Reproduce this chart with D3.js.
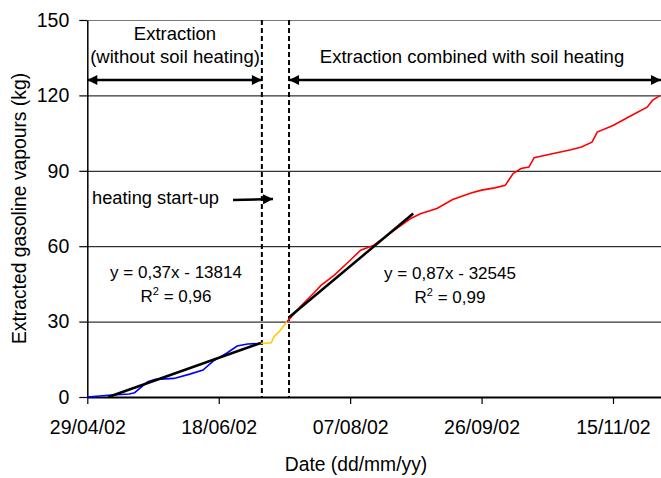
<!DOCTYPE html>
<html>
<head>
<meta charset="utf-8">
<script src="https://cdn.jsdelivr.net/npm/d3@7"></script>
<style>
  body { margin: 0; background: #fff; }
  svg { display: block; font-family: "Liberation Sans", Arial, sans-serif; }
</style>
</head>
<body>
<svg id="chart" width="661" height="478"></svg>
<script>
// extraction without heating (blue)
var blueDates  = ['2002-04-29', '2002-05-07', '2002-05-15', '2002-05-17', '2002-05-22', '2002-05-25',
                  '2002-06-01', '2002-06-07', '2002-06-12', '2002-06-16', '2002-06-21', '2002-06-25',
                  '2002-06-29', '2002-07-04'];
var blueValues = [0, 0.7, 1.2, 1.7, 6.1, 7.0, 7.4, 9.1, 10.7, 14.4, 17.4, 20.3, 21.1, 21.3];

// heating start-up (yellow)
var yellowDates  = ['2002-07-04', '2002-07-08', '2002-07-09', '2002-07-11', '2002-07-14'];
var yellowValues = [21.3, 21.6, 24.0, 26.0, 30.0];

// extraction combined with heating (red)
var redDates  = ['2002-07-14', '2002-07-19', '2002-07-24', '2002-07-27', '2002-08-01', '2002-08-07',
                 '2002-08-11', '2002-08-16', '2002-08-22', '2002-08-30', '2002-09-03', '2002-09-09',
                 '2002-09-15', '2002-09-22', '2002-09-26', '2002-10-01', '2002-10-05', '2002-10-08',
                 '2002-10-11', '2002-10-14', '2002-10-16', '2002-10-22', '2002-10-30', '2002-11-03',
                 '2002-11-07', '2002-11-09', '2002-11-15', '2002-11-22', '2002-11-28', '2002-11-30',
                 '2002-12-03'];
var redValues = [30.0, 35.9, 41.2, 44.5, 48.5, 54.4, 58.4, 60.4, 65.0, 71.0, 73.0, 75.0,
                 78.6, 81.2, 82.3, 83.2, 84.2, 88.9, 90.9, 91.5, 95.2, 96.6, 98.4, 99.5,
                 101.4, 105.4, 108.0, 112.0, 115.3, 118.0, 120.0];

// linear fits (end points)
var trend1Dates  = ['2002-05-07', '2002-07-04'];
var trend1Values = [0, 21.5];
var trend2Dates  = ['2002-07-15', '2002-08-31'];
var trend2Values = [31.9, 73.0];

var heatingBounds = ['2002-07-04 10:00', '2002-07-14 18:00'];
var xTickLabels = ['29/04/02', '18/06/02', '07/08/02', '26/09/02', '15/11/02'];
var yTicks = [0, 30, 60, 90, 120, 150];

var parseDay = d3.timeParse('%Y-%m-%d');
var parseHour = d3.timeParse('%Y-%m-%d %H:%M');
var parseTick = d3.timeParse('%d/%m/%y');

function pairs(dates, values) {
  return dates.map(function(d, i) { return { date: parseDay(d), value: values[i] }; });
}

var svg = d3.select('#chart');
var plotLeft = 87.3, plotRight = 661.4, plotTop = 20, plotBottom = 397;

var x = d3.scaleTime()
    .domain([parseDay('2002-04-29'), parseHour('2002-12-03 10:00')])
    .range([plotLeft, plotRight]);
var y = d3.scaleLinear().domain([0, 150]).range([plotBottom, plotTop]);

// grid
svg.append('g').selectAll('line')
    .data(yTicks.slice(1))
  .enter().append('line')
    .attr('x1', plotLeft).attr('x2', 661)
    .attr('y1', function(d) { return y(d) + 0.5; })
    .attr('y2', function(d) { return y(d) + 0.5; })
    .attr('stroke', function(d) { return d === 150 ? '#777' : '#000'; })
    .attr('stroke-width', 1);

// axes
var yAxis = svg.append('g')
    .attr('transform', 'translate(' + plotLeft + ',0)')
    .call(d3.axisLeft(y).tickValues(yTicks).tickSize(8).tickPadding(10).tickSizeOuter(0));
var xAxis = svg.append('g')
    .attr('transform', 'translate(0,' + plotBottom + ')')
    .call(d3.axisBottom(x).tickValues(xTickLabels.map(parseTick))
      .tickFormat(d3.timeFormat('%d/%m/%y')).tickSize(7).tickPadding(16).tickSizeOuter(0));

[yAxis, xAxis].forEach(function(a) {
  a.selectAll('text').attr('font-size', 19.5).attr('fill', '#000')
      .attr('font-family', '"Liberation Sans", Arial, sans-serif');
  a.selectAll('line').attr('stroke', '#000').attr('stroke-width', 1.2);
});
yAxis.select('.domain').attr('stroke', '#000').attr('stroke-width', 1.5);
xAxis.select('.domain').attr('stroke', '#000').attr('stroke-width', 2);

// heating window
svg.append('g').selectAll('line')
    .data(heatingBounds.map(parseHour))
  .enter().append('line')
    .attr('x1', function(d) { return x(d); })
    .attr('x2', function(d) { return x(d); })
    .attr('y1', plotTop).attr('y2', plotBottom)
    .attr('stroke', '#000').attr('stroke-width', 2)
    .attr('stroke-dasharray', '5,3');

// series
var line = d3.line()
    .x(function(d) { return x(d.date); })
    .y(function(d) { return y(d.value); });

[[blueDates, blueValues, '#0000ff'],
 [yellowDates, yellowValues, '#ffcc00'],
 [redDates, redValues, '#ff0000']].forEach(function(s) {
  svg.append('path')
      .datum(pairs(s[0], s[1]))
      .attr('d', line)
      .attr('fill', 'none')
      .attr('stroke', s[2])
      .attr('stroke-width', 1.6);
});

[[trend1Dates, trend1Values], [trend2Dates, trend2Values]].forEach(function(t) {
  svg.append('path')
      .datum(pairs(t[0], t[1]))
      .attr('d', line)
      .attr('fill', 'none')
      .attr('stroke', '#000')
      .attr('stroke-width', 2.5);
});

// arrows
var defs = svg.append('defs');
defs.append('marker')
    .attr('id', 'head')
    .attr('viewBox', '0 0 10 10')
    .attr('refX', 10).attr('refY', 5)
    .attr('markerWidth', 11).attr('markerHeight', 10)
    .attr('markerUnits', 'userSpaceOnUse')
    .attr('orient', 'auto-start-reverse')
  .append('path')
    .attr('d', 'M0,0L10,5L0,10Z')
    .attr('fill', '#000');

var bounds = heatingBounds.map(parseHour);
var arrowY = 80;
[[x.range()[0], x(bounds[0])], [x(bounds[1]), 661]].forEach(function(a) {
  svg.append('line')
      .attr('x1', a[0]).attr('x2', a[1])
      .attr('y1', arrowY).attr('y2', arrowY)
      .attr('stroke', '#000').attr('stroke-width', 2.5)
      .attr('marker-start', 'url(#head)')
      .attr('marker-end', 'url(#head)');
});

svg.append('line')
    .attr('x1', 233).attr('x2', 273)
    .attr('y1', 200).attr('y2', 199)
    .attr('stroke', '#000').attr('stroke-width', 2.5)
    .attr('marker-end', 'url(#head)');

// labels
function label(txt, px, py, size, anchor) {
  return svg.append('text')
      .attr('x', px).attr('y', py)
      .attr('font-size', size)
      .attr('text-anchor', anchor || 'middle')
      .text(txt);
}

label('Extraction', 175, 40, 18.5);
label('(without soil heating)', 175, 63, 18.5);
label('Extraction combined with soil heating', 472, 63, 18.5);
label('heating start-up', 92, 204, 18.3, 'start');

label('y = 0,37x - 13814', 176, 278, 17);
label('y = 0,87x - 32545', 450, 279, 17);

[[176, 302, '0,96'], [450, 303, '0,99']].forEach(function(r) {
  var t = svg.append('text')
      .attr('x', r[0]).attr('y', r[1])
      .attr('font-size', 17)
      .attr('text-anchor', 'middle');
  t.append('tspan').text('R');
  t.append('tspan').attr('font-size', 11).attr('dy', -7).text('2');
  t.append('tspan').attr('dy', 7).text(' = ' + r[2]);
});

label('Date (dd/mm/yy)', 356, 471, 19.3);
svg.append('text')
    .attr('transform', 'translate(26,' + ((plotTop + plotBottom) / 2) + ') rotate(-90)')
    .attr('text-anchor', 'middle')
    .attr('font-size', 19.3)
    .text('Extracted gasoline vapours (kg)');
</script>
</body>
</html>
